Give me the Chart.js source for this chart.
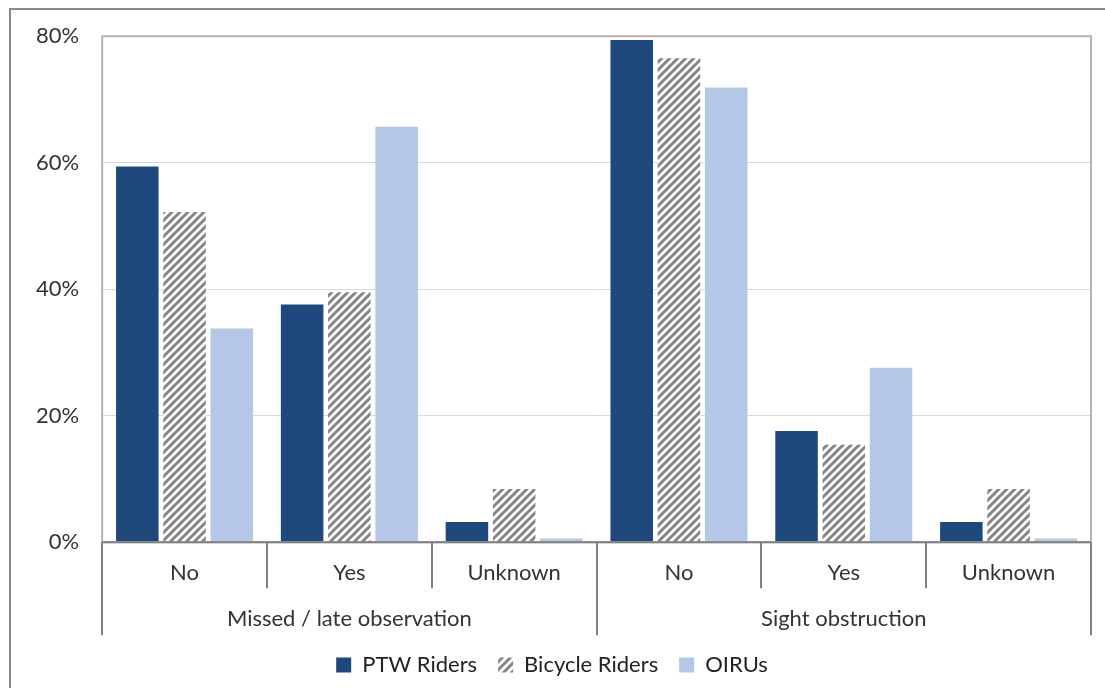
<!DOCTYPE html>
<html>
<head>
<meta charset="utf-8">
<script src="https://cdn.jsdelivr.net/npm/chart.js@4"></script>
<style>
  body { margin: 0; background: #fff; }
  #wrap { position: relative; width: 1105px; height: 688px; overflow: hidden; }
  #frame { position: absolute; left: 9px; top: 8px; width: 1200px; height: 800px;
           border-left: 2px solid #8a8a8a; border-top: 2px solid #8a8a8a; }
  canvas { position: absolute; left: 0; top: 0; }
</style>
</head>
<body>
<div id="wrap">
  <div id="frame"></div>
  <canvas id="chart" width="1105" height="688"></canvas>
</div>
<script>
const groups = ["Missed / late observation", "Sight obstruction"];
const answers = ["No", "Yes", "Unknown", "No", "Yes", "Unknown"];
const ptwRiders = [59.4, 37.6, 3.2, 79.4, 17.6, 3.2];
const bicycleRiders = [52.2, 39.5, 8.4, 76.5, 15.4, 8.4];
const oirus = [33.8, 65.7, 0.6, 71.9, 27.6, 0.6];
const yTicks = [0, 20, 40, 60, 80];

const FONT = "Lato, 'Open Sans', sans-serif";

// diagonal hatch for the bicycle series
function hatch() {
  const c = document.createElement("canvas");
  c.width = 8; c.height = 8;
  const g = c.getContext("2d");
  g.fillStyle = "#fff";
  g.fillRect(0, 0, 8, 8);
  g.strokeStyle = "#858585";
  g.lineWidth = 3;
  g.beginPath();
  g.moveTo(-2, 2); g.lineTo(2, -2);
  g.moveTo(0, 8); g.lineTo(8, 0);
  g.moveTo(6, 10); g.lineTo(10, 6);
  g.stroke();
  return g.createPattern(c, "repeat");
}
const hatchFill = hatch();

// separator lines under the axis + plot frame
const framePlugin = {
  id: "framePlugin",
  afterDraw(chart) {
    const ctx = chart.ctx;
    const a = chart.chartArea;
    const x = chart.scales.x;
    ctx.save();
    ctx.strokeStyle = "#b3b3b3";
    ctx.lineWidth = 2;
    ctx.strokeRect(a.left, a.top, a.right - a.left, a.bottom - a.top);

    ctx.strokeStyle = "#808080";
    ctx.beginPath();
    ctx.moveTo(a.left, a.bottom); ctx.lineTo(a.right, a.bottom);
    ctx.stroke();
    const n = answers.length;
    for (let i = 0; i <= n; i++) {
      let px;
      if (i === 0) px = a.left;
      else if (i === n) px = a.right;
      else px = (x.getPixelForValue(i - 1) + x.getPixelForValue(i)) / 2;
      const long = i % 3 === 0;
      ctx.beginPath();
      ctx.moveTo(Math.round(px), a.bottom);
      ctx.lineTo(Math.round(px), a.bottom + (long ? 93 : 46));
      ctx.stroke();
    }
    ctx.restore();
  }
};

new Chart(document.getElementById("chart"), {
  type: "bar",
  data: {
    labels: answers,
    datasets: [
      { label: "PTW Riders", data: ptwRiders, backgroundColor: "#1f497d" },
      { label: "Bicycle Riders", data: bicycleRiders, backgroundColor: hatchFill },
      { label: "OIRUs", data: oirus, backgroundColor: "#b4c7e7" }
    ]
  },
  options: {
    responsive: false,
    animation: false,
    layout: { padding: { left: 13, right: 14, top: 35, bottom: 2 } },
    datasets: { bar: { barPercentage: 0.9, categoryPercentage: 0.86 } },
    scales: {
      y: {
        min: 0, max: 80,
        afterBuildTicks: s => { s.ticks = yTicks.map(v => ({ value: v })); },
        ticks: { callback: v => v + "%", padding: 23, color: "#333", font: { family: FONT, size: 22 } },
        grid: { color: "#d9d9d9", lineWidth: 1, drawTicks: false },
        border: { display: false }
      },
      x: {
        grid: { display: false },
        border: { display: false },
        ticks: { padding: 10, color: "#333", font: { family: FONT, size: 22 } }
      },
      x2: {
        type: "category",
        labels: groups,
        position: "bottom",
        grid: { display: false },
        border: { display: false },
        ticks: { padding: 1, color: "#333", font: { family: FONT, size: 22 } }
      }
    },
    plugins: {
      legend: {
        position: "bottom",
        labels: { boxWidth: 15, boxHeight: 15, padding: 21, color: "#222", font: { family: FONT, size: 22 } }
      },
      tooltip: { enabled: false }
    }
  },
  plugins: [framePlugin]
});
</script>
</body>
</html>
